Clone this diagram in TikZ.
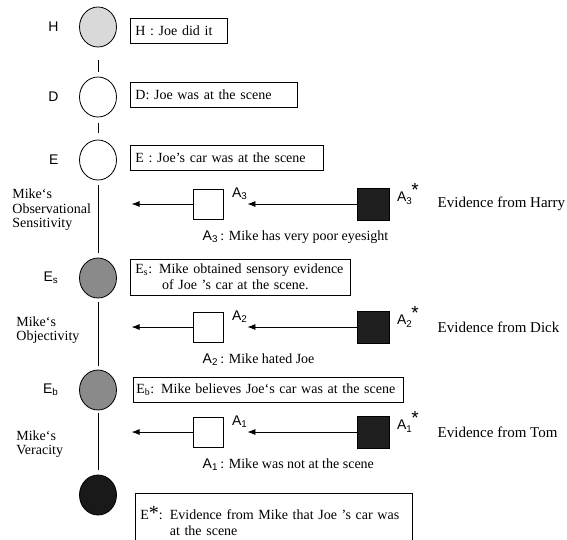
\documentclass[tikz,border=0pt]{standalone}
\usepackage{fontspec}
\setmainfont{Liberation Serif}
\setsansfont{Liberation Sans}
\usetikzlibrary{shapes.geometric,arrows.meta,positioning}

\begin{document}
\begin{tikzpicture}[x=1pt, y=-1pt, line width=0.8pt,
    font=\fontsize{14}{16}\selectfont,
    var/.style={ellipse, draw, minimum width=37pt, minimum height=40pt, inner sep=0pt},
    txtbox/.style={draw, anchor=west, align=left, inner xsep=5pt, minimum height=25pt},
    sq/.style={draw, fill=white, minimum size=30pt, inner sep=0pt},
    blk/.style={draw, fill=black!88, minimum size=32pt, inner sep=0pt},
    sname/.style={font=\sffamily\fontsize{14}{16}\selectfont},
    note/.style={font=\fontsize{14}{14.5}\selectfont, align=left, anchor=west, inner sep=1pt},
    arr/.style={-{Latex[length=8pt,width=6pt]}}]
  \clip (0,0) rectangle (567,539); % page frame

  % chain of events
  \node[var, fill=black!15] (H) at (98,27) {};
  \node[var] (D) at (98,97) {};
  \node[var] (E) at (98,160) {};
  \node[var, fill=black!46] (Es) at (98,278) {};
  \node[var, fill=black!46] (Eb) at (98,390) {};
  \node[var, fill=black!90] (Estar) at (98,495) {};
  \node[sname, left=17pt of H] {H};
  \node[sname, left=17pt of D] {D};
  \node[sname, left=17pt of E] {E};
  \node[sname, left=17pt of Es] {E\textsubscript{s}};
  \node[sname, left=17pt of Eb] {E\textsubscript{b}};
  \draw[shorten <=13pt, shorten >=5pt] (H) -- (D);
  \draw[shorten <=6pt, shorten >=7pt] (D) -- (E);
  \draw[shorten <=5pt, shorten >=5pt] (E) -- (Es);
  \draw[shorten <=4pt, shorten >=4pt] (Es) -- (Eb);
  \draw[shorten <=3pt, shorten >=5pt] (Eb) -- (Estar);

  \node[txtbox, text width=87pt] (hbox) at (130,30.5) {H : Joe did it};
  \node[txtbox, text width=157pt] (dbox) at (130,95) {D: Joe was at the scene};
  \node[txtbox, text width=183pt] (ebox) at (130,157.5) {E : Joe's car was at the scene};
  \node[txtbox, text width=210pt, minimum height=36pt] (esbox) at (130,277)
    {E\textsubscript{s}: Mike obtained sensory evidence\\\hspace*{1.9em}of Joe 's car at the scene.};
  \node[txtbox, text width=264pt, inner xsep=3pt] (ebbox) at (133,389.5) {E\textsubscript{b}: Mike believes Joe`s car was at the scene};
  \node[txtbox, text width=267pt, minimum height=55pt, anchor=north west] (estarbox) at (135,493)
    {E\raisebox{0pt}{\fontsize{20}{20}\selectfont *}: Evidence from Mike that Joe 's car was\\\hspace*{2.1em}at the scene};

  \node[note] (obs) at (11,210) {Mike`s\\Observational\\Sensitivity};
  \node[note] (obj) at (15,330) {Mike`s\\Objectivity};
  \node[note] (ver) at (15,444) {Mike`s\\Veracity};

  % ancillary evidence
  \foreach \i/\y/\who/\what in {3/204/Harry/{Mike has very poor eyesight},
      2/327/Dick/{Mike hated Joe}, 1/432/Tom/{Mike was not at the scene}} {
    \node[sq] (w\i) at (208,\y) {};
    \node[blk] (b\i) at (373,\y) {};
    \node[sname, anchor=west] (la\i) at ([xshift=5pt,yshift=10pt]w\i.east) {A\textsubscript{\i}};
    \node[sname, anchor=west] (lb\i) at ([xshift=4pt,yshift=10pt]b\i.east)
      {A\textsubscript{\i}\kern-1pt\raisebox{5pt}{\fontsize{19}{19}\selectfont *}};
    \node[anchor=west] (ev\i) at (434,\y) {\fontsize{15}{16}\selectfont Evidence from \who};
    \node[anchor=west] (ta\i) at (199,\y+33) {{\sffamily A\textsubscript{\i}}\,: \what};
    \coordinate (tr\i) at ([xshift=24pt]w\i.east);
    \coordinate (tl\i) at ([xshift=-61pt]w\i.west);
    \draw[arr] (b\i) -- (tr\i);
    \draw[arr] (w\i) -- (tl\i);
  }
\end{tikzpicture}
\end{document}
